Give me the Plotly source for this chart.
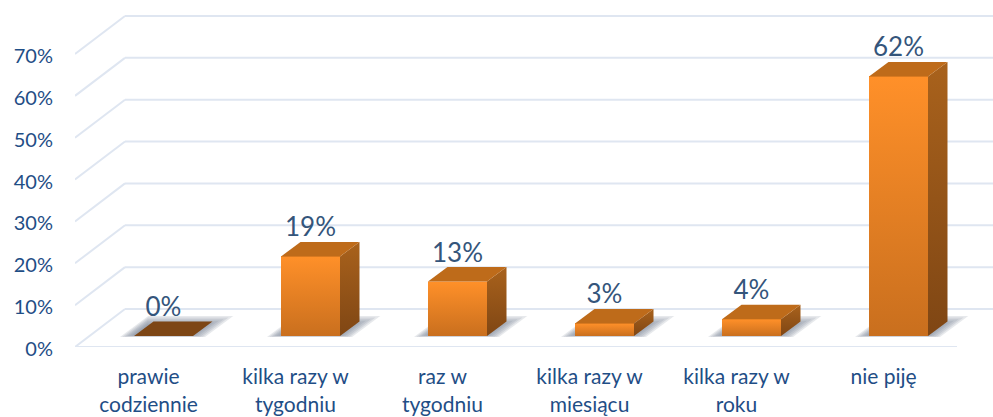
import plotly.graph_objects as go

categories = ["prawie<br>codziennie", "kilka razy w<br>tygodniu", "raz w<br>tygodniu",
              "kilka razy w<br>miesiącu", "kilka razy w<br>roku", "nie piję"]
values = [0, 19, 13, 3, 4, 62]
axis_ticks = [0, 10, 20, 30, 40, 50, 60, 70]
axis_labels = ["0%", "10%", "20%", "30%", "40%", "50%", "60%", "70%"]

PX_X = 147.0      # px per category
PX_Y = 4.186      # px per percent
BAR_W = 59 / PX_X
FRONT_DX = 15 / PX_X           # floor position of bar front relative to the label
FRONT_DY = 11 / PX_Y
DEPTH_X = 19.5 / PX_X
DEPTH_Y = 14.5 / PX_Y
WALL_X = 50 / PX_X
WALL_Y = 38 / PX_Y
X_MIN, X_END, X_MAX = -0.5, 5.5, -0.5 + 918 / PX_X

TICK_COLOR = "#1F4E86"
LABEL_COLOR = "#34557B"
GRID = "#DFE6F1"
FONT = "Lato"

shapes = []


def line(x0, y0, x1, y1):
    shapes.append(dict(type="line", xref="x", yref="y", x0=x0, y0=y0, x1=x1, y1=y1,
                       layer="below", line=dict(color=GRID, width=2)))


for t in axis_ticks:
    line(X_MIN, t, X_MIN + WALL_X, t + WALL_Y)
    line(X_MIN + WALL_X, t + WALL_Y, X_MAX, t + WALL_Y)
line(X_MIN, 0, X_END, 0)


def floor_poly(xc, grow_l, grow_r, front, back, color, opacity):
    """Floor parallelogram around a bar, for its soft shadow."""
    left = xc + FRONT_DX - BAR_W / 2 - grow_l / PX_X
    right = xc + FRONT_DX + BAR_W / 2 + grow_r / PX_X
    y0 = FRONT_DY + front / PX_Y
    y1 = FRONT_DY + back / PX_Y
    slope = DEPTH_X / DEPTH_Y
    sh = (y1 - y0) * slope
    path = (f"M{left},{y0} L{right},{y0} L{right + sh},{y1} L{left + sh},{y1} Z")
    shapes.append(dict(type="path", xref="x", yref="y", path=path, layer="below",
                       line=dict(width=0), fillcolor=color, opacity=opacity))


for i in range(len(values)):
    for k in range(6):
        floor_poly(i, 14 - 2.4 * k, 12 - 2.2 * k, -1 + 0.3 * k, 20 - 1.6 * k, "#6F7C8C", 0.17)

fig = go.Figure()

x_pos = list(range(len(values)))
fig.add_trace(go.Bar(
    x=x_pos, y=values, base=FRONT_DY, width=BAR_W,
    offset=FRONT_DX - BAR_W / 2,
    marker=dict(color="#E8821F", line=dict(width=0)), hoverinfo="skip", showlegend=False,
))

for i, v in enumerate(values):
    xl = i + FRONT_DX - BAR_W / 2
    xr = xl + BAR_W
    y0 = FRONT_DY
    y1 = FRONT_DY + v
    if v > 0:
        # front face with gradient
        fig.add_trace(go.Scatter(
            x=[xl, xr, xr, xl, xl], y=[y0, y0, y1, y1, y0], mode="lines", fill="toself",
            line=dict(width=0), hoverinfo="skip", showlegend=False,
            fillgradient=dict(type="vertical",
                              colorscale=[[0, "#C96F1E"], [1, "#FF9029"]]),
        ))
        # side face
        fig.add_trace(go.Scatter(
            x=[xr, xr + DEPTH_X, xr + DEPTH_X, xr, xr],
            y=[y0, y0 + DEPTH_Y, y1 + DEPTH_Y, y1, y0], mode="lines", fill="toself",
            line=dict(width=0), hoverinfo="skip", showlegend=False,
            fillgradient=dict(type="vertical",
                              colorscale=[[0, "#7F4614"], [1, "#A9621C"]]),
        ))
    # top face
    fig.add_trace(go.Scatter(
        x=[xl, xr, xr + DEPTH_X, xl + DEPTH_X, xl],
        y=[y1, y1, y1 + DEPTH_Y, y1 + DEPTH_Y, y1], mode="lines", fill="toself",
        line=dict(width=0), fillcolor="#BE6B1A" if v > 0 else "#7D4615",
        hoverinfo="skip", showlegend=False,
    ))

fig.add_trace(go.Scatter(
    x=[i + FRONT_DX for i in x_pos],
    y=[FRONT_DY + v + DEPTH_Y + 12 / PX_Y for v in values],
    text=[f"{v}%" for v in values], mode="text", textposition="middle center",
    textfont=dict(family=FONT, size=26, color=LABEL_COLOR),
    hoverinfo="skip", showlegend=False,
))

fig.update_layout(
    width=993, height=417, autosize=False,
    margin=dict(l=75, r=0, t=0, b=70, pad=0),
    paper_bgcolor="white", plot_bgcolor="white",
    shapes=shapes, bargap=0, showlegend=False,
    xaxis=dict(range=[X_MIN, X_MAX], tickmode="array", tickvals=x_pos, ticktext=categories,
               showgrid=False, zeroline=False, showline=False, automargin=False,
               ticks="outside", ticklen=11, tickcolor="rgba(0,0,0,0)",
               tickfont=dict(family=FONT, size=21, color=TICK_COLOR)),
    yaxis=dict(range=[0, 347 / PX_Y], tickmode="array", tickvals=axis_ticks, ticktext=axis_labels,
               showgrid=False, zeroline=False, showline=False, automargin=False,
               ticks="outside", ticklen=17, tickcolor="rgba(0,0,0,0)", ticklabelshift=2,
               tickfont=dict(family=FONT, size=20, color=TICK_COLOR)),
)

fig.write_html("out.html", config={"displayModeBar": False},
               post_script="document.body.style.margin='0';document.body.style.overflow='hidden';")
